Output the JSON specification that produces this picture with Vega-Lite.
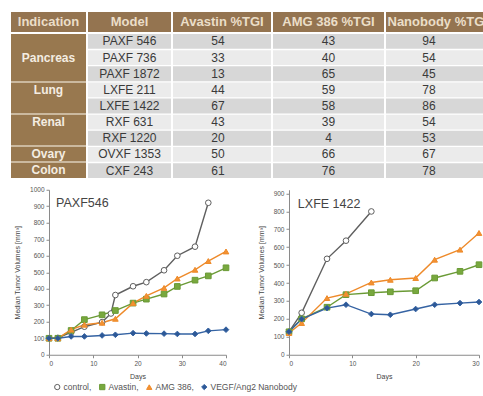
{
  "$schema": "https://vega.github.io/schema/vega-lite/v6.json",
  "padding": {"left": 10, "top": 12, "right": 0, "bottom": 0},
  "background": "white",
  "config": {
    "view": {"stroke": null},
    "font": "Liberation Sans",
    "axis": {"labelFont": "Liberation Sans", "titleFont": "Liberation Sans", "labelFontSize": 6.5, "titleFontSize": 7, "titleFontWeight": "normal", "labelColor": "#555555", "titleColor": "#444444", "domainColor": "#8a8a8a", "tickColor": "#8a8a8a", "tickSize": 3, "domainWidth": 1, "grid": false, "format": "d"},
    "legend": {"labelFont": "Liberation Sans", "labelFontSize": 8.5, "labelColor": "#555555", "symbolSize": 28, "symbolStrokeWidth": 1, "columnPadding": 5, "labelOffset": 2, "padding": 0, "labelLimit": 200}
  },
  "datasets": {
    "table": [
      {"indication": "Pancreas", "model": "PAXF 546", "avastin": 54, "amg": 43, "nano": 94},
      {"indication": "Pancreas", "model": "PAXF 736", "avastin": 33, "amg": 40, "nano": 54},
      {"indication": "Pancreas", "model": "PAXF 1872", "avastin": 13, "amg": 65, "nano": 45},
      {"indication": "Lung", "model": "LXFE 211", "avastin": 44, "amg": 59, "nano": 78},
      {"indication": "Lung", "model": "LXFE 1422", "avastin": 67, "amg": 58, "nano": 86},
      {"indication": "Renal", "model": "RXF 631", "avastin": 43, "amg": 39, "nano": 54},
      {"indication": "Renal", "model": "RXF 1220", "avastin": 20, "amg": 4, "nano": 53},
      {"indication": "Ovary", "model": "OVXF 1353", "avastin": 50, "amg": 66, "nano": 67},
      {"indication": "Colon", "model": "CXF 243", "avastin": 61, "amg": 76, "nano": 78}
    ],
    "paxf": [
      {"series": "control", "day": 0, "vol": 100}, {"series": "control", "day": 2, "vol": 102}, {"series": "control", "day": 5, "vol": 135}, {"series": "control", "day": 8, "vol": 170}, {"series": "control", "day": 12, "vol": 198}, {"series": "control", "day": 14, "vol": 250}, {"series": "control", "day": 15, "vol": 362}, {"series": "control", "day": 19, "vol": 415}, {"series": "control", "day": 22, "vol": 440}, {"series": "control", "day": 26, "vol": 512}, {"series": "control", "day": 29, "vol": 600}, {"series": "control", "day": 33, "vol": 655}, {"series": "control", "day": 36, "vol": 921},
      {"series": "Avastin", "day": 0, "vol": 100}, {"series": "Avastin", "day": 2, "vol": 100}, {"series": "Avastin", "day": 5, "vol": 147}, {"series": "Avastin", "day": 8, "vol": 213}, {"series": "Avastin", "day": 12, "vol": 242}, {"series": "Avastin", "day": 15, "vol": 268}, {"series": "Avastin", "day": 19, "vol": 313}, {"series": "Avastin", "day": 22, "vol": 337}, {"series": "Avastin", "day": 26, "vol": 368}, {"series": "Avastin", "day": 29, "vol": 414}, {"series": "Avastin", "day": 33, "vol": 452}, {"series": "Avastin", "day": 36, "vol": 478}, {"series": "Avastin", "day": 40, "vol": 527},
      {"series": "AMG 386", "day": 0, "vol": 100}, {"series": "AMG 386", "day": 2, "vol": 100}, {"series": "AMG 386", "day": 5, "vol": 152}, {"series": "AMG 386", "day": 8, "vol": 182}, {"series": "AMG 386", "day": 12, "vol": 194}, {"series": "AMG 386", "day": 15, "vol": 218}, {"series": "AMG 386", "day": 19, "vol": 313}, {"series": "AMG 386", "day": 22, "vol": 357}, {"series": "AMG 386", "day": 26, "vol": 405}, {"series": "AMG 386", "day": 29, "vol": 462}, {"series": "AMG 386", "day": 33, "vol": 515}, {"series": "AMG 386", "day": 36, "vol": 568}, {"series": "AMG 386", "day": 40, "vol": 626},
      {"series": "VEGF/Ang2 Nanobody", "day": 0, "vol": 100}, {"series": "VEGF/Ang2 Nanobody", "day": 2, "vol": 100}, {"series": "VEGF/Ang2 Nanobody", "day": 5, "vol": 111}, {"series": "VEGF/Ang2 Nanobody", "day": 8, "vol": 111}, {"series": "VEGF/Ang2 Nanobody", "day": 12, "vol": 117}, {"series": "VEGF/Ang2 Nanobody", "day": 15, "vol": 121}, {"series": "VEGF/Ang2 Nanobody", "day": 19, "vol": 131}, {"series": "VEGF/Ang2 Nanobody", "day": 22, "vol": 129}, {"series": "VEGF/Ang2 Nanobody", "day": 26, "vol": 128}, {"series": "VEGF/Ang2 Nanobody", "day": 29, "vol": 126}, {"series": "VEGF/Ang2 Nanobody", "day": 33, "vol": 126}, {"series": "VEGF/Ang2 Nanobody", "day": 36, "vol": 145}, {"series": "VEGF/Ang2 Nanobody", "day": 40, "vol": 152}
    ],
    "lxfe": [
      {"series": "control", "day": 0, "vol": 128}, {"series": "control", "day": 2, "vol": 234}, {"series": "control", "day": 6, "vol": 535}, {"series": "control", "day": 9, "vol": 636}, {"series": "control", "day": 13, "vol": 799},
      {"series": "Avastin", "day": 0, "vol": 128}, {"series": "Avastin", "day": 2, "vol": 200}, {"series": "Avastin", "day": 6, "vol": 265}, {"series": "Avastin", "day": 9, "vol": 335}, {"series": "Avastin", "day": 13, "vol": 346}, {"series": "Avastin", "day": 16, "vol": 351}, {"series": "Avastin", "day": 20, "vol": 357}, {"series": "Avastin", "day": 23, "vol": 428}, {"series": "Avastin", "day": 27, "vol": 465}, {"series": "Avastin", "day": 30, "vol": 502},
      {"series": "AMG 386", "day": 0, "vol": 121}, {"series": "AMG 386", "day": 2, "vol": 177}, {"series": "AMG 386", "day": 6, "vol": 316}, {"series": "AMG 386", "day": 9, "vol": 340}, {"series": "AMG 386", "day": 13, "vol": 403}, {"series": "AMG 386", "day": 16, "vol": 418}, {"series": "AMG 386", "day": 20, "vol": 428}, {"series": "AMG 386", "day": 23, "vol": 530}, {"series": "AMG 386", "day": 27, "vol": 586}, {"series": "AMG 386", "day": 30, "vol": 679},
      {"series": "VEGF/Ang2 Nanobody", "day": 0, "vol": 128}, {"series": "VEGF/Ang2 Nanobody", "day": 2, "vol": 199}, {"series": "VEGF/Ang2 Nanobody", "day": 6, "vol": 260}, {"series": "VEGF/Ang2 Nanobody", "day": 9, "vol": 279}, {"series": "VEGF/Ang2 Nanobody", "day": 13, "vol": 227}, {"series": "VEGF/Ang2 Nanobody", "day": 16, "vol": 223}, {"series": "VEGF/Ang2 Nanobody", "day": 20, "vol": 255}, {"series": "VEGF/Ang2 Nanobody", "day": 23, "vol": 279}, {"series": "VEGF/Ang2 Nanobody", "day": 27, "vol": 288}, {"series": "VEGF/Ang2 Nanobody", "day": 30, "vol": 294}
    ]
  },
  "spacing": 8.75,
  "resolve": {"scale": {"fill": "independent", "stroke": "independent", "shape": "independent"}},
  "vconcat": [
    {
      "spacing": 2,
      "vconcat": [
        {
          "bounds": "flush",
          "spacing": 2,
          "hconcat": [
            {"width": 75, "height": 20, "view": {"fill": "#947450", "stroke": null}, "data": {"values": [{"h": "Indication"}]}, "mark": {"type": "text", "font": "Liberation Sans", "fontSize": 13, "fontWeight": "bold", "color": "#ebdec8"}, "encoding": {"text": {"field": "h", "type": "nominal"}}},
            {"width": 83, "height": 20, "view": {"fill": "#947450", "stroke": null}, "data": {"values": [{"h": "Model"}]}, "mark": {"type": "text", "font": "Liberation Sans", "fontSize": 13, "fontWeight": "bold", "color": "#ebdec8"}, "encoding": {"text": {"field": "h", "type": "nominal"}}},
            {"width": 98, "height": 20, "view": {"fill": "#947450", "stroke": null}, "data": {"values": [{"h": "Avastin %TGI"}]}, "mark": {"type": "text", "font": "Liberation Sans", "fontSize": 13, "fontWeight": "bold", "color": "#ebdec8"}, "encoding": {"text": {"field": "h", "type": "nominal"}}},
            {"width": 111, "height": 20, "view": {"fill": "#947450", "stroke": null}, "data": {"values": [{"h": "AMG 386 %TGI"}]}, "mark": {"type": "text", "font": "Liberation Sans", "fontSize": 13, "fontWeight": "bold", "color": "#ebdec8"}, "encoding": {"text": {"field": "h", "type": "nominal"}}},
            {"width": 98, "height": 20, "view": {"fill": "#947450", "stroke": null}, "data": {"values": [{"h": "Nanobody %TGI"}]}, "mark": {"type": "text", "font": "Liberation Sans", "fontSize": 13, "fontWeight": "bold", "color": "#ebdec8", "align": "left", "dx": -47.5, "limit": 97, "ellipsis": "\u200b"}, "encoding": {"text": {"field": "h", "type": "nominal"}}}
          ]
        },
        {
          "bounds": "flush",
          "spacing": 2,
          "hconcat": [
            {
              "width": 75, "height": 144,
              "view": {"fill": "#98784f", "stroke": null},
              "data": {"name": "table"},
              "encoding": {"y": {"field": "model", "type": "nominal", "axis": null, "scale": {"domain": ["PAXF 546","PAXF 736","PAXF 1872","LXFE 211","LXFE 1422","RXF 631","RXF 1220","OVXF 1353","CXF 243"], "paddingInner": 0, "paddingOuter": 0}}},
              "layer": [
                {"transform": [{"filter": {"field": "model", "oneOf": ["LXFE 211","RXF 631","OVXF 1353","CXF 243"]}}], "mark": {"type": "rule", "stroke": "#dccfba", "strokeWidth": 1.5}, "encoding": {"y": {"field": "model", "type": "nominal", "bandPosition": 0}}},
                {"transform": [{"filter": {"field": "model", "oneOf": ["PAXF 736","LXFE 211","RXF 631","OVXF 1353","CXF 243"]}}], "mark": {"type": "text", "font": "Liberation Sans", "fontSize": 12, "fontWeight": "bold", "color": "#f4ede2"}, "encoding": {"text": {"field": "indication", "type": "nominal"}}}
              ]
            },
            {
              "width": 83, "height": 144,
              "data": {"name": "table"},
              "encoding": {"y": {"field": "model", "type": "nominal", "axis": null, "scale": {"domain": ["PAXF 546","PAXF 736","PAXF 1872","LXFE 211","LXFE 1422","RXF 631","RXF 1220","OVXF 1353","CXF 243"], "paddingInner": 0.08, "paddingOuter": 0}}},
              "layer": [
                {"mark": {"type": "rect"}, "encoding": {"fill": {"field": "model", "type": "nominal", "scale": {"domain": ["PAXF 546","PAXF 736","PAXF 1872","LXFE 211","LXFE 1422","RXF 631","RXF 1220","OVXF 1353","CXF 243"], "range": ["#d7d7d7","#ebebeb","#d7d7d7","#ebebeb","#d7d7d7","#ebebeb","#d7d7d7","#ebebeb","#d7d7d7"]}, "legend": null}}},
                {"mark": {"type": "text", "font": "Liberation Sans", "fontSize": 12, "color": "#3a3a3a"}, "encoding": {"text": {"field": "model", "type": "nominal"}}}
              ]
            },
            {
              "width": 98, "height": 144,
              "data": {"name": "table"},
              "encoding": {"y": {"field": "model", "type": "nominal", "axis": null, "scale": {"domain": ["PAXF 546","PAXF 736","PAXF 1872","LXFE 211","LXFE 1422","RXF 631","RXF 1220","OVXF 1353","CXF 243"], "paddingInner": 0.08, "paddingOuter": 0}}},
              "layer": [
                {"mark": {"type": "rect"}, "encoding": {"fill": {"field": "model", "type": "nominal", "scale": {"domain": ["PAXF 546","PAXF 736","PAXF 1872","LXFE 211","LXFE 1422","RXF 631","RXF 1220","OVXF 1353","CXF 243"], "range": ["#d7d7d7","#ebebeb","#d7d7d7","#ebebeb","#d7d7d7","#ebebeb","#d7d7d7","#ebebeb","#d7d7d7"]}, "legend": null}}},
                {"mark": {"type": "text", "font": "Liberation Sans", "fontSize": 12, "color": "#3a3a3a", "dx": -4}, "encoding": {"text": {"field": "avastin", "type": "nominal"}}}
              ]
            },
            {
              "width": 111, "height": 144,
              "data": {"name": "table"},
              "encoding": {"y": {"field": "model", "type": "nominal", "axis": null, "scale": {"domain": ["PAXF 546","PAXF 736","PAXF 1872","LXFE 211","LXFE 1422","RXF 631","RXF 1220","OVXF 1353","CXF 243"], "paddingInner": 0.08, "paddingOuter": 0}}},
              "layer": [
                {"mark": {"type": "rect"}, "encoding": {"fill": {"field": "model", "type": "nominal", "scale": {"domain": ["PAXF 546","PAXF 736","PAXF 1872","LXFE 211","LXFE 1422","RXF 631","RXF 1220","OVXF 1353","CXF 243"], "range": ["#d7d7d7","#ebebeb","#d7d7d7","#ebebeb","#d7d7d7","#ebebeb","#d7d7d7","#ebebeb","#d7d7d7"]}, "legend": null}}},
                {"mark": {"type": "text", "font": "Liberation Sans", "fontSize": 12, "color": "#3a3a3a"}, "encoding": {"text": {"field": "amg", "type": "nominal"}}}
              ]
            },
            {
              "width": 98, "height": 144,
              "data": {"name": "table"},
              "encoding": {"y": {"field": "model", "type": "nominal", "axis": null, "scale": {"domain": ["PAXF 546","PAXF 736","PAXF 1872","LXFE 211","LXFE 1422","RXF 631","RXF 1220","OVXF 1353","CXF 243"], "paddingInner": 0.08, "paddingOuter": 0}}},
              "layer": [
                {"mark": {"type": "rect"}, "encoding": {"fill": {"field": "model", "type": "nominal", "scale": {"domain": ["PAXF 546","PAXF 736","PAXF 1872","LXFE 211","LXFE 1422","RXF 631","RXF 1220","OVXF 1353","CXF 243"], "range": ["#d7d7d7","#ebebeb","#d7d7d7","#ebebeb","#d7d7d7","#ebebeb","#d7d7d7","#ebebeb","#d7d7d7"]}, "legend": null}}},
                {"mark": {"type": "text", "font": "Liberation Sans", "fontSize": 12, "color": "#3a3a3a", "dx": -6}, "encoding": {"text": {"field": "nano", "type": "nominal"}}}
              ]
            }
          ]
        }
      ]
    },
    {
      "bounds": "flush",
      "spacing": 0,
      "hconcat": [
        {"width": 38, "height": 165, "data": {"values": []}, "mark": "point", "encoding": {}},
        {
          "bounds": "flush",
          "spacing": 63,
          "resolve": {"scale": {"fill": "independent", "stroke": "independent", "shape": "independent"}},
          "hconcat": [
            {
              "width": 177, "height": 165,
              "data": {"name": "paxf"},
              "encoding": {
                "x": {"field": "day", "type": "quantitative", "scale": {"domain": [0, 40], "nice": false, "zero": false}, "axis": {"values": [0, 10, 20, 30, 40], "title": "Days", "labelPadding": 3, "titlePadding": 5}},
                "y": {"field": "vol", "type": "quantitative", "scale": {"domain": [0, 1000], "nice": false}, "axis": {"values": [0, 100, 200, 300, 400, 500, 600, 700, 800, 900, 1000], "title": "Median Tumor Volumes [mm³]", "labelPadding": 2, "titlePadding": 9}}
              },
              "layer": [
                {"mark": {"type": "line", "strokeWidth": 1.4}, "encoding": {
                  "stroke": {"field": "series", "type": "nominal", "scale": {"domain": ["control", "Avastin", "AMG 386", "VEGF/Ang2 Nanobody"], "range": ["#5f5f5f", "#6a9a35", "#ee8a2a", "#3563a3"]}, "legend": {"orient": "none", "legendX": 4, "legendY": 193, "direction": "horizontal", "title": null, "labelExpr": "datum.label == 'VEGF/Ang2 Nanobody' ? datum.label : datum.label + ','"}}
                }},
                {"mark": {"type": "point", "size": 32, "strokeWidth": 1, "opacity": 1}, "encoding": {
                  "stroke": {"field": "series", "type": "nominal", "scale": {"domain": ["control", "Avastin", "AMG 386", "VEGF/Ang2 Nanobody"], "range": ["#5f5f5f", "#6a9a35", "#ee8a2a", "#3563a3"]}, "legend": {"orient": "none", "legendX": 4, "legendY": 193, "direction": "horizontal", "title": null, "labelExpr": "datum.label == 'VEGF/Ang2 Nanobody' ? datum.label : datum.label + ','"}},
                  "fill": {"field": "series", "type": "nominal", "scale": {"domain": ["control", "Avastin", "AMG 386", "VEGF/Ang2 Nanobody"], "range": ["#ffffff", "#78a83e", "#f39233", "#2d5896"]}, "legend": {"orient": "none", "legendX": 4, "legendY": 193, "direction": "horizontal", "title": null, "labelExpr": "datum.label == 'VEGF/Ang2 Nanobody' ? datum.label : datum.label + ','"}},
                  "shape": {"field": "series", "type": "nominal", "scale": {"domain": ["control", "Avastin", "AMG 386", "VEGF/Ang2 Nanobody"], "range": ["circle", "square", "triangle-up", "diamond"]}, "legend": {"orient": "none", "legendX": 4, "legendY": 193, "direction": "horizontal", "title": null, "labelExpr": "datum.label == 'VEGF/Ang2 Nanobody' ? datum.label : datum.label + ','"}}
                }},
                {"mark": {"type": "text", "align": "left", "font": "Liberation Sans", "fontSize": 12.5, "color": "#444444"}, "encoding": {"x": {"datum": 1.6}, "y": {"datum": 921}, "text": {"condition": {"test": "datum.series == 'control' && datum.day == 0", "value": "PAXF546"}, "value": ""}}}
              ]
            },
            {
              "width": 190, "height": 165,
              "data": {"name": "lxfe"},
              "encoding": {
                "x": {"field": "day", "type": "quantitative", "scale": {"domain": [0, 30], "nice": false, "zero": false}, "axis": {"values": [0, 10, 20, 30], "title": "Days", "labelPadding": 3, "titlePadding": 5}},
                "y": {"field": "vol", "type": "quantitative", "scale": {"domain": [0, 920], "nice": false}, "axis": {"values": [0, 100, 200, 300, 400, 500, 600, 700, 800, 900], "title": "Median Tumor Volumes [mm³]", "labelPadding": 2, "titlePadding": 9}}
              },
              "layer": [
                {"mark": {"type": "line", "strokeWidth": 1.4}, "encoding": {
                  "stroke": {"field": "series", "type": "nominal", "scale": {"domain": ["control", "Avastin", "AMG 386", "VEGF/Ang2 Nanobody"], "range": ["#5f5f5f", "#6a9a35", "#ee8a2a", "#3563a3"]}, "legend": null}
                }},
                {"mark": {"type": "point", "size": 32, "strokeWidth": 1, "opacity": 1}, "encoding": {
                  "stroke": {"field": "series", "type": "nominal", "scale": {"domain": ["control", "Avastin", "AMG 386", "VEGF/Ang2 Nanobody"], "range": ["#5f5f5f", "#6a9a35", "#ee8a2a", "#3563a3"]}, "legend": null},
                  "fill": {"field": "series", "type": "nominal", "scale": {"domain": ["control", "Avastin", "AMG 386", "VEGF/Ang2 Nanobody"], "range": ["#ffffff", "#78a83e", "#f39233", "#2d5896"]}, "legend": null},
                  "shape": {"field": "series", "type": "nominal", "scale": {"domain": ["control", "Avastin", "AMG 386", "VEGF/Ang2 Nanobody"], "range": ["circle", "square", "triangle-up", "diamond"]}, "legend": null}
                }},
                {"mark": {"type": "text", "align": "left", "font": "Liberation Sans", "fontSize": 12.5, "color": "#444444"}, "encoding": {"x": {"datum": 1.4}, "y": {"datum": 842}, "text": {"condition": {"test": "datum.series == 'control' && datum.day == 0", "value": "LXFE 1422"}, "value": ""}}}
              ]
            }
          ]
        }
      ]
    }
  ]
}
